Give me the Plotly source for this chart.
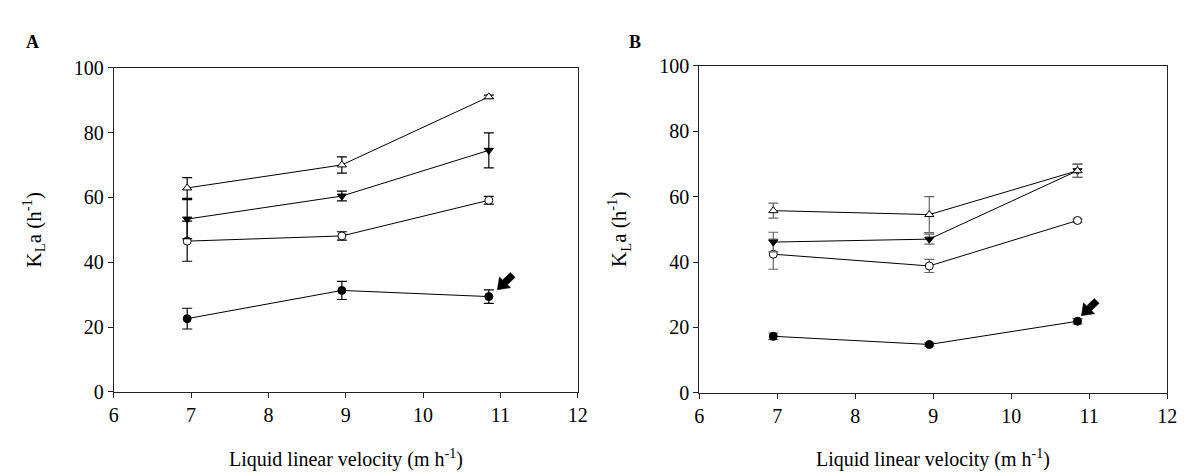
import math
import plotly.graph_objects as go

# ---- data ----
velocity = [6.95, 8.95, 10.85]

# Panel A
a_tri_up = [62.9, 70.0, 91.0]
a_tri_up_err = [3.2, 2.5, 0.5]
a_tri_down = [53.3, 60.4, 74.5]
a_tri_down_err = [6.0, 1.5, 5.4]
a_circ_open = [46.5, 48.1, 59.1]
a_circ_open_err = [6.2, 1.3, 1.2]
a_circ_fill = [22.6, 31.3, 29.4]
a_circ_fill_err = [3.2, 2.8, 2.1]

# Panel B
b_tri_up = [55.7, 54.5, 67.9]
b_tri_up_err = [2.3, 5.5, 2.0]
b_tri_down = [46.1, 47.0, 67.9]
b_tri_down_err = [3.0, 1.5, 2.0]
b_circ_open = [42.4, 38.8, 52.7]
b_circ_open_err = [4.6, 2.0, 0.5]
b_circ_fill = [17.3, 14.8, 21.9]
b_circ_fill_err = [1.0, 0.5, 0.8]

# arrow tips (data coords) marking the highlighted points
arrow_a = (10.96, 31.5)
arrow_b = (10.90, 23.6)

x_ticks = [6, 7, 8, 9, 10, 11, 12]
y_ticks = [0, 20, 40, 60, 80, 100]

W, H = 1185, 476
FONT = "Liberation Serif, Times New Roman, serif"

XDOM_A = [102 / W, 572 / W]
YDOM_A = [1 - 391 / H, 1 - 51 / H]
XDOM_B = [695 / W, 1169 / W]
YDOM_B = [1 - 392 / H, 1 - 49 / H]
XR = [6, 12]
YR = [0, 100]

fig = go.Figure()


def add_series(x, y, err, symbol, fill, xa, ya, ecol):
    fig.add_trace(go.Scatter(
        x=x, y=y, mode="lines+markers",
        line=dict(color="black", width=1),
        marker=dict(symbol=symbol, size=8,
                    color=fill, line=dict(color="black", width=1)),
        error_y=dict(type="data", array=err, color=ecol, thickness=1.2, width=5),
        xaxis=xa, yaxis=ya, showlegend=False, cliponaxis=False))


for y, e, s, f in [(a_circ_fill, a_circ_fill_err, "circle", "black"),
                   (a_circ_open, a_circ_open_err, "circle", "white"),
                   (a_tri_down, a_tri_down_err, "triangle-down", "black"),
                   (a_tri_up, a_tri_up_err, "triangle-up", "white")]:
    add_series(velocity, y, e, s, f, "x", "y", "black")

for y, e, s, f in [(b_circ_fill, b_circ_fill_err, "circle", "black"),
                   (b_circ_open, b_circ_open_err, "circle", "white"),
                   (b_tri_down, b_tri_down_err, "triangle-down", "black"),
                   (b_tri_up, b_tri_up_err, "triangle-up", "white")]:
    add_series(velocity, y, e, s, f, "x2", "y2", "#666666")

axis_common = dict(showline=True, linecolor="#222", linewidth=1, mirror=True,
                   ticks="outside", ticklen=5, tickcolor="#222", showgrid=False,
                   zeroline=False, tickfont=dict(family=FONT, size=20, color="black"))

fig.update_layout(
    width=W, height=H,
    margin=dict(l=0, r=0, t=0, b=0),
    paper_bgcolor="white", plot_bgcolor="white",
    xaxis=dict(domain=XDOM_A, range=XR, tickvals=x_ticks, anchor="y", **axis_common),
    yaxis=dict(domain=YDOM_A, range=YR, tickvals=y_ticks, anchor="x", **axis_common),
    xaxis2=dict(domain=XDOM_B, range=XR, tickvals=x_ticks, anchor="y2", **axis_common),
    yaxis2=dict(domain=YDOM_B, range=YR, tickvals=y_ticks, anchor="x2", **axis_common),
)


def block_arrow(tip, xdom, ydom, xref, yref):
    # pixels per data unit on each axis
    ppx = (xdom[1] - xdom[0]) * W / (XR[1] - XR[0])
    ppy = (ydom[1] - ydom[0]) * H / (YR[1] - YR[0])
    c = math.cos(math.radians(45))
    u = (c, c)          # direction tip -> tail (pixel space, y up)
    n = (-c, c)         # perpendicular
    L, HL, HW, SW = 22, 11, 8, 3.5
    pts_px = [(0, 0),
              (HL * u[0] + HW * n[0], HL * u[1] + HW * n[1]),
              (HL * u[0] + SW * n[0], HL * u[1] + SW * n[1]),
              (L * u[0] + SW * n[0], L * u[1] + SW * n[1]),
              (L * u[0] - SW * n[0], L * u[1] - SW * n[1]),
              (HL * u[0] - SW * n[0], HL * u[1] - SW * n[1]),
              (HL * u[0] - HW * n[0], HL * u[1] - HW * n[1])]
    pts = [(tip[0] + dx / ppx, tip[1] + dy / ppy) for dx, dy in pts_px]
    path = "M " + " L ".join(f"{x:.4f},{y:.4f}" for x, y in pts) + " Z"
    return dict(type="path", path=path, xref=xref, yref=yref,
                fillcolor="black", line=dict(color="black", width=0.5))


fig.update_layout(shapes=[block_arrow(arrow_a, XDOM_A, YDOM_A, "x", "y"),
                          block_arrow(arrow_b, XDOM_B, YDOM_B, "x2", "y2")])

ann = []
# panel letters
ann.append(dict(x=20 / W, y=1 - 24 / H, xref="paper", yref="paper", text="<b>A</b>",
                showarrow=False, xanchor="center", yanchor="middle",
                font=dict(family=FONT, size=18, color="black")))
ann.append(dict(x=630 / W, y=1 - 24 / H, xref="paper", yref="paper", text="<b>B</b>",
                showarrow=False, xanchor="center", yanchor="middle",
                font=dict(family=FONT, size=18, color="black")))
# axis titles
for cx in [337, 932]:
    ann.append(dict(x=cx / W, y=1 - 461 / H, xref="paper", yref="paper",
                    text="Liquid linear velocity (m h<sup>-1</sup>)", showarrow=False,
                    xanchor="center", yanchor="middle",
                    font=dict(family=FONT, size=20, color="black")))
for cx in [21, 614]:
    ann.append(dict(x=cx / W, y=1 - 221 / H, xref="paper", yref="paper",
                    text="K<sub>L</sub>a (h<sup>-1</sup>)", showarrow=False, textangle=-90,
                    xanchor="center", yanchor="middle",
                    font=dict(family=FONT, size=21, color="black")))
fig.update_layout(annotations=ann)

fig.write_html("out.html")
